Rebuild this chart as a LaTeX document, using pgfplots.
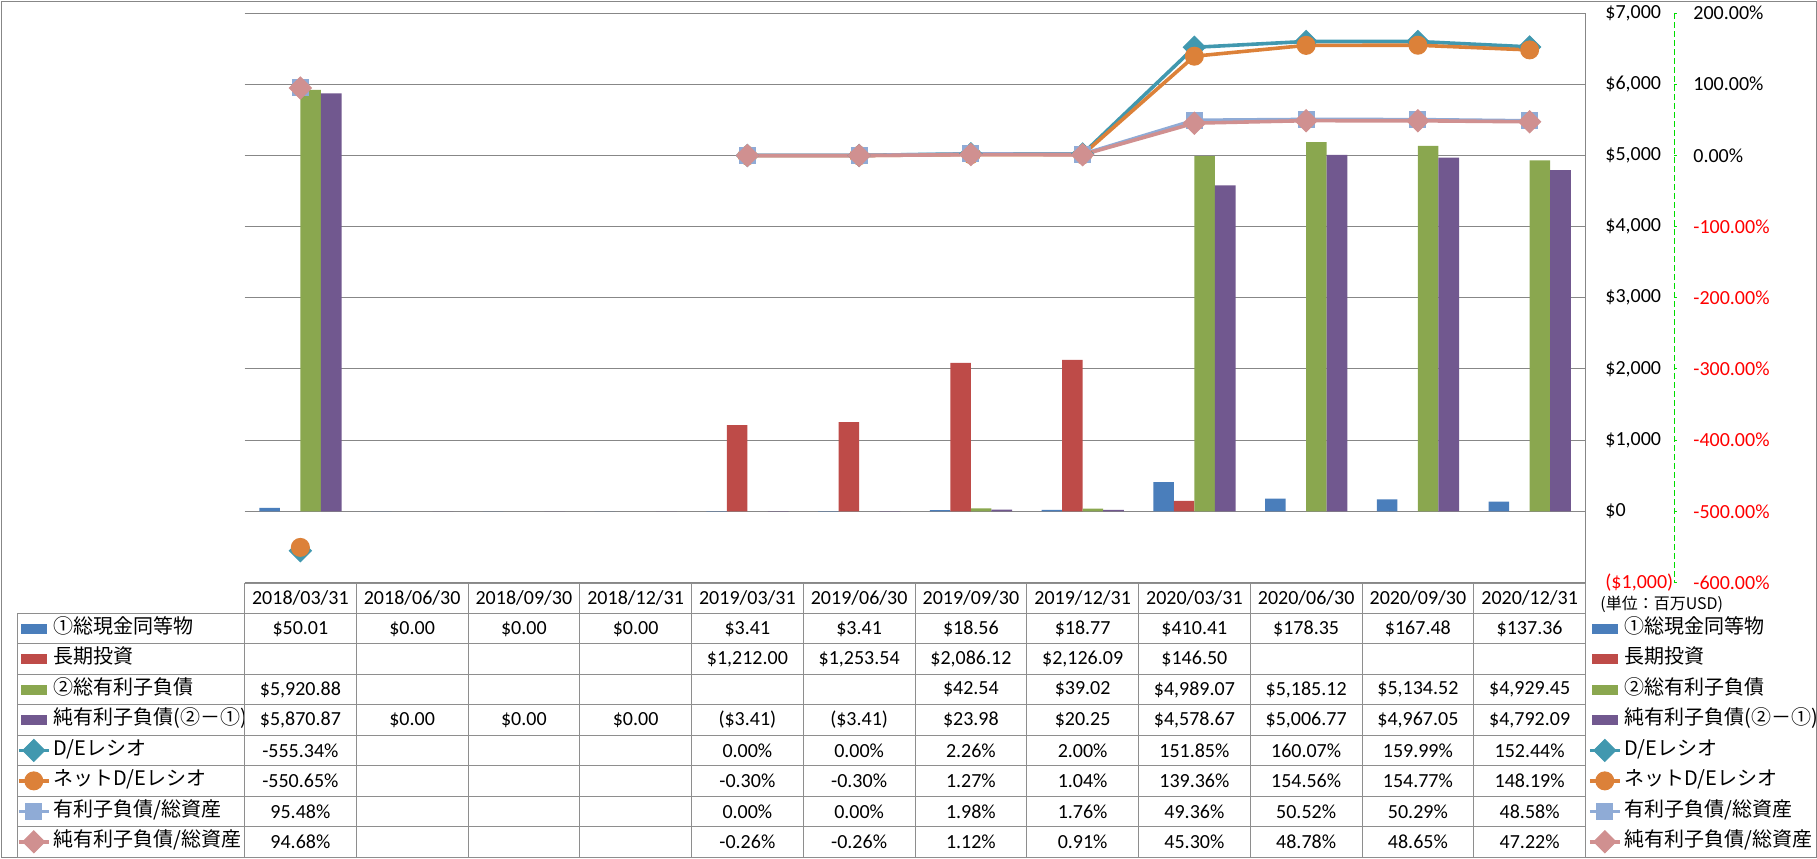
\documentclass[border=0pt]{standalone}
\usepackage{pgfplots}
\pgfplotsset{compat=1.18}
\usepackage{fontspec}
\setmainfont{Carlito}
\newfontfamily\cjk{Noto Sans CJK JP}
\definecolor{cBlue}{HTML}{4A7EBB}
\definecolor{cRed}{HTML}{BE4B48}
\definecolor{cGreen}{HTML}{8AA74F}
\definecolor{cPurple}{HTML}{71588F}
\definecolor{cTeal}{HTML}{4198AF}
\definecolor{cOrange}{HTML}{DC8139}
\definecolor{cLBlue}{HTML}{8FABD6}
\definecolor{cPink}{HTML}{D09090}
\definecolor{cGrid}{HTML}{878787}
\definecolor{cTab}{HTML}{8E8E8E}
\definecolor{cGLine}{RGB}{0,220,0}
\pgfplotsset{
  barkey/.style={legend image code/.code={\path (0pt,0pt) (15pt,0pt); \fill[##1] (1pt,-2.5pt) rectangle (14pt,2.5pt);}},
  linekey/.style={legend image code/.code={\draw[##1, mark repeat=2, mark phase=2] plot coordinates {(0pt,0pt) (7.5pt,0pt) (15pt,0pt)};}},
  mylegend/.style={legend cell align=left,
    legend style={draw=none, fill=none, inner sep=0pt, outer sep=0pt, row sep=0pt, column sep=1.5pt,
      at={(#1,-0.05426)}, anchor=north west, font=\cjk\fontsize{10}{12}\selectfont,
      nodes={inner sep=0pt, text height=10pt, text depth=5.225pt}}},
  deS/.style={draw=cTeal, line width=1.8pt, mark=square*, mark size=3.9pt, mark options={solid, rotate=45, fill=cTeal, draw=cTeal, line width=0.5pt}},
  ndeS/.style={draw=cOrange, line width=1.8pt, mark=*, mark size=4.5pt, mark options={solid, fill=cOrange, draw=cOrange, line width=0.5pt}},
  dtaS/.style={draw=cLBlue, line width=1.8pt, mark=square*, mark size=4pt, mark options={solid, fill=cLBlue, draw=cLBlue, line width=0.5pt}},
  ndtaS/.style={draw=cPink, line width=1.8pt, mark=square*, mark size=3.9pt, mark options={solid, rotate=45, fill=cPink, draw=cPink, line width=0.5pt}},
}
\begin{document}
\begin{tikzpicture}
% ---------- bars (left axis) ----------
\begin{axis}[
  at={(122.25pt,-291.25pt)}, anchor=south west, scale only axis,
  width=670.5pt, height=284.75pt,
  xmin=-0.5, xmax=11.5, ymin=-1000, ymax=7000,
  xtick=\empty,
  ytick={0,1000,2000,3000,4000,5000,6000,7000},
  yticklabels={{\$0},{\$1,000},{\$2,000},{\$3,000},{\$4,000},{\$5,000},{\$6,000},{\$7,000}},
  extra y ticks={-1000},
  extra y tick labels={{(\$1,000)}},
  extra y tick style={yticklabel style={text=red}},
  yticklabel pos=right,
  yticklabel style={anchor=west, inner sep=0pt, xshift=9.75pt, font=\fontsize{10}{12}\selectfont},
  axis line style={draw=none}, major tick length=0pt,
  ymajorgrids, grid style={cGrid, line width=0.5pt},
  mylegend=1.00186,
]
\addplot[ybar, bar width=0.184, barkey, fill=cBlue, draw=none, bar shift=-0.276] coordinates {(0,50.01)(1,0)(2,0)(3,0)(4,3.41)(5,3.41)(6,18.56)(7,18.77)(8,410.41)(9,178.35)(10,167.48)(11,137.36)};
\addlegendentry{①総現金同等物}
\addplot[ybar, bar width=0.184, barkey, fill=cRed, draw=none, bar shift=-0.092] coordinates {(4,1212.00)(5,1253.54)(6,2086.12)(7,2126.09)(8,146.50)};
\addlegendentry{長期投資}
\addplot[ybar, bar width=0.184, barkey, fill=cGreen, draw=none, bar shift=0.092] coordinates {(0,5920.88)(6,42.54)(7,39.02)(8,4989.07)(9,5185.12)(10,5134.52)(11,4929.45)};
\addlegendentry{②総有利子負債}
\addplot[ybar, bar width=0.184, barkey, fill=cPurple, draw=none, bar shift=0.276] coordinates {(0,5870.87)(1,0)(2,0)(3,0)(4,-3.41)(5,-3.41)(6,23.98)(7,20.25)(8,4578.67)(9,5006.77)(10,4967.05)(11,4792.09)};
\addlegendentry{純有利子負債(②－①)}
\addlegendimage{linekey, deS}\addlegendentry{D/Eレシオ}
\addlegendimage{linekey, ndeS}\addlegendentry{ネットD/Eレシオ}
\addlegendimage{linekey, dtaS}\addlegendentry{有利子負債/総資産}
\addlegendimage{linekey, ndtaS}\addlegendentry{純有利子負債/総資産}
\end{axis}
% ---------- lines (right axis) ----------
\begin{axis}[
  at={(122.25pt,-291.25pt)}, anchor=south west, scale only axis,
  width=670.5pt, height=284.75pt,
  xmin=-0.5, xmax=11.5, ymin=-600, ymax=200,
  xtick=\empty,
  ytick={-600,-500,-400,-300,-200,-100,0,100,200},
  yticklabels={{\textcolor{red}{-600.00\%}},{\textcolor{red}{-500.00\%}},{\textcolor{red}{-400.00\%}},{\textcolor{red}{-300.00\%}},{\textcolor{red}{-200.00\%}},{\textcolor{red}{-100.00\%}},{0.00\%},{100.00\%},{200.00\%}},
  yticklabel pos=right,
  yticklabel style={anchor=west, inner sep=0pt, xshift=53.75pt, font=\fontsize{10}{12}\selectfont},
  axis line style={draw=none}, major tick length=0pt,
  unbounded coords=jump, clip=false,
  mylegend=-0.16965,
]
\addlegendimage{barkey, fill=cBlue, draw=none}\addlegendentry{①総現金同等物}
\addlegendimage{barkey, fill=cRed, draw=none}\addlegendentry{長期投資}
\addlegendimage{barkey, fill=cGreen, draw=none}\addlegendentry{②総有利子負債}
\addlegendimage{barkey, fill=cPurple, draw=none}\addlegendentry{純有利子負債(②－①)}
\addplot[linekey, deS] coordinates {(0,-555.34)(1,nan)(2,nan)(3,nan)(4,0)(5,0)(6,2.26)(7,2.00)(8,151.85)(9,160.07)(10,159.99)(11,152.44)};
\addlegendentry{D/Eレシオ}
\addplot[linekey, ndeS] coordinates {(0,-550.65)(1,nan)(2,nan)(3,nan)(4,-0.30)(5,-0.30)(6,1.27)(7,1.04)(8,139.36)(9,154.56)(10,154.77)(11,148.19)};
\addlegendentry{ネットD/Eレシオ}
\addplot[linekey, dtaS] coordinates {(0,95.48)(1,nan)(2,nan)(3,nan)(4,0)(5,0)(6,1.98)(7,1.76)(8,49.36)(9,50.52)(10,50.29)(11,48.58)};
\addlegendentry{有利子負債/総資産}
\addplot[linekey, ndtaS] coordinates {(0,94.68)(1,nan)(2,nan)(3,nan)(4,-0.26)(5,-0.26)(6,1.12)(7,0.91)(8,45.30)(9,48.78)(10,48.65)(11,47.22)};
\addlegendentry{純有利子負債/総資産}
\end{axis}
% ---------- table and frame (in pixel units) ----------
\begin{scope}[x=0.5pt, y=-0.5pt, every node/.style={font=\fontsize{10}{12}\selectfont, inner sep=0pt}]
  \draw[cGrid, line width=0.5pt] (1,1) rectangle (1816,857);
  \draw[cGrid, line width=0.5pt] (1585.5,13) -- (1585.5,583);
  \draw[cTab, line width=0.5pt] (244.5,583) -- (1585.5,583);
  \foreach \r in {1,...,9} \draw[cTab, line width=0.5pt] (17,{583+\r*30.444}) -- (1585.5,{583+\r*30.444});
  \foreach \k in {0,...,12} \draw[cTab, line width=0.5pt] ({244.5+\k*111.75},583) -- ({244.5+\k*111.75},857);
  \draw[cTab, line width=0.5pt] (17,613.44) -- (17,857);
  % green dashed secondary axis line
  \draw[cGLine, line width=0.5pt, dash pattern=on 3pt off 1.5pt] (1674,13) -- (1674,582.5);
  \foreach \k in {0,...,8} \draw[cGLine, line width=0.5pt] (1674,{582.5-\k*71.1875}) -- ++(3,0);
  \node[anchor=west, font=\cjk\fontsize{8}{10}\selectfont] at (1600,604) {(単位：百万USD)};
  % header
  \foreach \d [count=\k from 0] in {2018/03/31,2018/06/30,2018/09/30,2018/12/31,2019/03/31,2019/06/30,2019/09/30,2019/12/31,2020/03/31,2020/06/30,2020/09/30,2020/12/31}
    \node at ({244.5+(\k+0.5)*111.75},{583+0.5*30.444}) {\d};
  \foreach \v [count=\k from 0] in {\$50.01,\$0.00,\$0.00,\$0.00,\$3.41,\$3.41,\$18.56,\$18.77,\$410.41,\$178.35,\$167.48,\$137.36}
    \node at ({244.5+(\k+0.5)*111.75},{583+1.5*30.444}) {\v};
  \foreach \v [count=\k from 0] in {{},{},{},{},{\$1,212.00},{\$1,253.54},{\$2,086.12},{\$2,126.09},\$146.50,{},{},{}}
    \node at ({244.5+(\k+0.5)*111.75},{583+2.5*30.444}) {\v};
  \foreach \v [count=\k from 0] in {{\$5,920.88},{},{},{},{},{},\$42.54,\$39.02,{\$4,989.07},{\$5,185.12},{\$5,134.52},{\$4,929.45}}
    \node at ({244.5+(\k+0.5)*111.75},{583+3.5*30.444}) {\v};
  \foreach \v [count=\k from 0] in {{\$5,870.87},\$0.00,\$0.00,\$0.00,{(\$3.41)},{(\$3.41)},\$23.98,\$20.25,{\$4,578.67},{\$5,006.77},{\$4,967.05},{\$4,792.09}}
    \node at ({244.5+(\k+0.5)*111.75},{583+4.5*30.444}) {\v};
  \foreach \v [count=\k from 0] in {-555.34\%,{},{},{},0.00\%,0.00\%,2.26\%,2.00\%,151.85\%,160.07\%,159.99\%,152.44\%}
    \node at ({244.5+(\k+0.5)*111.75},{583+5.5*30.444}) {\v};
  \foreach \v [count=\k from 0] in {-550.65\%,{},{},{},-0.30\%,-0.30\%,1.27\%,1.04\%,139.36\%,154.56\%,154.77\%,148.19\%}
    \node at ({244.5+(\k+0.5)*111.75},{583+6.5*30.444}) {\v};
  \foreach \v [count=\k from 0] in {95.48\%,{},{},{},0.00\%,0.00\%,1.98\%,1.76\%,49.36\%,50.52\%,50.29\%,48.58\%}
    \node at ({244.5+(\k+0.5)*111.75},{583+7.5*30.444}) {\v};
  \foreach \v [count=\k from 0] in {94.68\%,{},{},{},-0.26\%,-0.26\%,1.12\%,0.91\%,45.30\%,48.78\%,48.65\%,47.22\%}
    \node at ({244.5+(\k+0.5)*111.75},{583+8.5*30.444}) {\v};
  \pgfresetboundingbox
  \path[use as bounding box] (0,0) rectangle (1817,858);
\end{scope}
\end{tikzpicture}
\end{document}
